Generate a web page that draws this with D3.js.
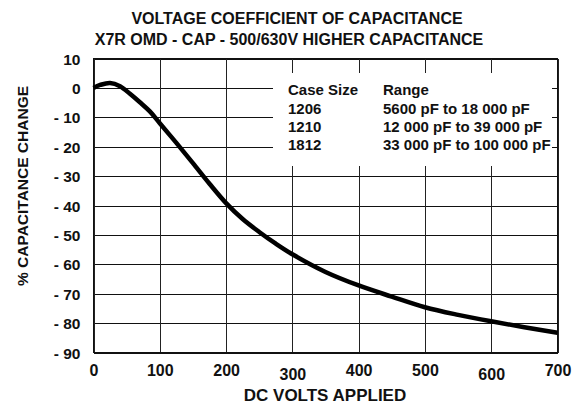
<!DOCTYPE html>
<html>
<head>
<meta charset="utf-8">
<script src="https://cdn.jsdelivr.net/npm/d3@7"></script>
<style>
  html, body { margin: 0; padding: 0; background: #fff; }
  svg { display: block; font-family: "Liberation Sans", Arial, Helvetica, sans-serif; font-weight: bold; }
</style>
</head>
<body>
<svg id="chart" width="582" height="406"></svg>
<script>
// ---- data ----
const titleLines = ["VOLTAGE COEFFICIENT OF CAPACITANCE", "X7R OMD - CAP - 500/630V HIGHER CAPACITANCE"];
const xTitle = "DC VOLTS APPLIED";
const yTitle = "% CAPACITANCE CHANGE";
const xTicks = [0, 100, 200, 300, 400, 500, 600, 700];
const yTicks = [10, 0, -10, -20, -30, -40, -50, -60, -70, -80, -90];
const volts = [0, 10, 25, 40, 55, 70, 85, 100, 125, 150, 175, 200, 225, 250, 275, 300, 350, 400, 450, 500, 550, 600, 650, 700];
const capChange = [0, 1.0, 1.7, 0.6, -2.0, -4.9, -8.0, -12.0, -18.7, -25.6, -32.6, -39.2, -44.6, -49.0, -53.0, -56.6, -62.6, -67.2, -71.0, -74.6, -77.2, -79.4, -81.4, -83.3];
const legendHeader = ["Case Size", "Range"];
const caseSizes = ["1206", "1210", "1812"];
const ranges = ["5600 pF to 18 000 pF", "12 000 pF to 39 000 pF", "33 000 pF to 100 000 pF"];

// ---- layout ----
const svg = d3.select("#chart");
const L = 93.5, R = 557.5, T = 58.5, B = 352.5;
const x = d3.scaleLinear().domain([0, 700]).range([L, R]);
const y = d3.scaleLinear().domain([-90, 10]).range([B, T]);

// title
svg.append("g").selectAll("text").data(titleLines).join("text")
  .attr("x", (d, i) => i === 0 ? 297 : 289)
  .attr("y", (d, i) => i === 0 ? 23.5 : 44.5)
  .attr("text-anchor", "middle")
  .attr("font-size", 16)
  .attr("fill", "#111")
  .text(d => d);

// gridlines via axes
const yAxis = d3.axisLeft(y).tickValues(yTicks).tickSize(-(R - L)).tickPadding(13)
  .tickFormat(d => d < 0 ? "- " + Math.abs(d) : String(d));
const gy = svg.append("g").attr("transform", `translate(${L},0)`).call(yAxis);
gy.select(".domain").remove();
gy.selectAll(".tick line").attr("stroke", "#111").attr("shape-rendering", "crispEdges");
gy.selectAll(".tick text").attr("font-size", 15.5).attr("font-family", null).attr("fill", "#111").attr("dy", "0.36em");

const xNudge = {300: 4, 600: 4};
const xAxis = d3.axisBottom(x).tickValues(xTicks).tickSize(-(B - T)).tickPadding(13)
  .tickFormat(d => String(d));
const gx = svg.append("g").attr("transform", `translate(0,${B})`).call(xAxis);
gx.select(".domain").remove();
gx.selectAll(".tick line").attr("stroke", "#222").attr("shape-rendering", "crispEdges");
gx.selectAll(".tick text").attr("font-size", 16).attr("font-family", null).attr("fill", "#111")
  .attr("dy", "0.71em").attr("y", d => 12.5 + (xNudge[d] || 0));

// frame
svg.append("rect").attr("x", L).attr("y", T).attr("width", R - L).attr("height", B - T)
  .attr("fill", "none").attr("stroke", "#111").attr("shape-rendering", "crispEdges");

// legend box (white, covering gridlines)
svg.append("rect").attr("x", 273).attr("y", 73).attr("width", 279).attr("height", 93).attr("fill", "#fff");
const lg = svg.append("g").attr("font-size", 15).attr("fill", "#111");
lg.append("text").attr("x", 288).attr("y", 95).text(legendHeader[0]);
lg.append("text").attr("x", 383).attr("y", 95).text(legendHeader[1]);
lg.selectAll(".cs").data(caseSizes).join("text").attr("class", "cs")
  .attr("x", 288).attr("y", (d, i) => 113.5 + i * 18.3).text(d => d);
lg.selectAll(".rg").data(ranges).join("text").attr("class", "rg")
  .attr("x", 383).attr("y", (d, i) => 113.5 + i * 18.3).text(d => d);

// curve
const pts = volts.map((v, i) => [v, capChange[i]]);
svg.append("path").datum(pts)
  .attr("d", d3.line().x(d => x(d[0])).y(d => y(d[1])).curve(d3.curveCatmullRom.alpha(0.5)))
  .attr("fill", "none").attr("stroke", "#000").attr("stroke-width", 4.5)
  .attr("stroke-linejoin", "round").attr("stroke-linecap", "butt");

// axis titles
svg.append("text").attr("x", 325).attr("y", 401).attr("text-anchor", "middle")
  .attr("font-size", 17).attr("fill", "#111").text(xTitle);
svg.append("text").attr("transform", "translate(28,186) rotate(-90)").attr("text-anchor", "middle")
  .attr("font-size", 15.5).attr("fill", "#111").text(yTitle);
</script>
</body>
</html>
